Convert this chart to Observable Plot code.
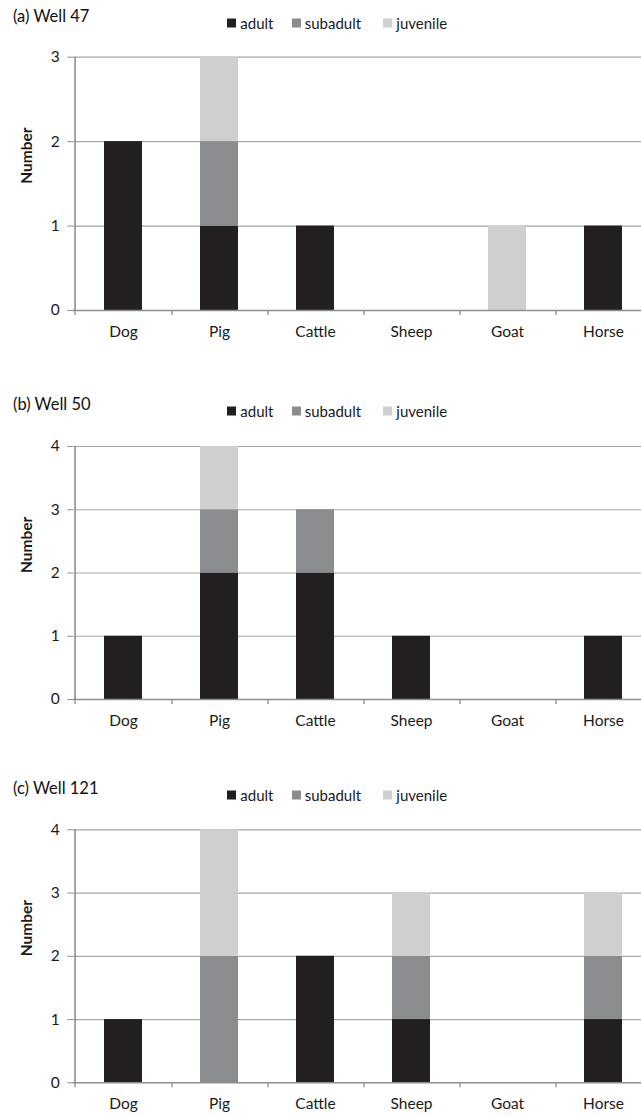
<!DOCTYPE html>
<html><head><meta charset="utf-8">
<script src="https://cdn.jsdelivr.net/npm/d3@7"></script>
<script src="https://cdn.jsdelivr.net/npm/@observablehq/plot@0.6"></script>
<style>
body{margin:0;background:#fff;font-family:Lato,sans-serif;}
#root{position:relative;width:641px;height:1116px;overflow:hidden;background:#fff;}
.panel{position:absolute;left:0;width:641px;}
.panel svg{display:block;}
.title{position:absolute;left:13px;font-size:16.5px;color:#111;line-height:1;transform:translateY(-50%);white-space:nowrap;}
.item{position:absolute;display:flex;align-items:center;font-size:15px;color:#1a1a1a;line-height:1;transform:translateY(-50%);white-space:nowrap;}
.sw{width:9px;height:9px;margin-right:4px;}
</style></head><body><div id="root"></div>
<script>
// ---- data ----
const categories = ["Dog", "Pig", "Cattle", "Sheep", "Goat", "Horse"];
const stages = ["adult", "subadult", "juvenile"];
const stageColors = ["#231f20", "#8a8d8f", "#cdcfd1"];
const panelTitles = ["(a) Well 47", "(b) Well 50", "(c) Well 121"];

const well47Adult    = [2, 1, 1, 0, 0, 1];
const well47Subadult = [0, 1, 0, 0, 0, 0];
const well47Juvenile = [0, 1, 0, 0, 1, 0];

const well50Adult    = [1, 2, 2, 1, 0, 1];
const well50Subadult = [0, 1, 1, 0, 0, 0];
const well50Juvenile = [0, 1, 0, 0, 0, 0];

const well121Adult    = [1, 0, 2, 1, 0, 1];
const well121Subadult = [0, 2, 0, 1, 0, 1];
const well121Juvenile = [0, 2, 0, 1, 0, 1];

const well47Ticks  = [0, 1, 2, 3];
const well50Ticks  = [0, 1, 2, 3, 4];
const well121Ticks = [0, 1, 2, 3, 4];
const yAxisLabel = "Number";

// ---- layout ----
const W = 641;
const xRange = [72.3, 653.7];
const step = (xRange[1] - xRange[0]) / categories.length;
const panels = [
  {title: panelTitles[0], series: [well47Adult, well47Subadult, well47Juvenile], ticks: well47Ticks,
   top: 0, height: 380, mt: 56.7, mb: 70, titleY: 16, legendY: 23.3},
  {title: panelTitles[1], series: [well50Adult, well50Subadult, well50Juvenile], ticks: well50Ticks,
   top: 380, height: 380, mt: 66, mb: 61, titleY: 24, legendY: 31},
  {title: panelTitles[2], series: [well121Adult, well121Subadult, well121Juvenile], ticks: well121Ticks,
   top: 760, height: 356, mt: 69.3, mb: 33.7, titleY: 27.5, legendY: 34.5}
];
const legendX = [227.3, 291.7, 383.3];
const axisColor = "#8e8e8e";
const gridColor = "#a6a6a6";

const root = document.getElementById("root");

for (const p of panels) {
  const data = [];
  categories.forEach((c, i) => {
    stages.forEach((s, k) => data.push({cat: c, stage: s, n: p.series[k][i]}));
  });
  const yMax = p.ticks[p.ticks.length - 1];

  const chart = Plot.plot({
    width: W,
    height: p.height,
    marginLeft: xRange[0],
    marginRight: 0,
    marginTop: p.mt,
    marginBottom: p.mb,
    style: {fontFamily: "Lato, sans-serif", fontSize: "15px", color: "#1a1a1a", background: "#fff", overflow: "visible"},
    x: {domain: categories, range: xRange, paddingInner: 0.6, paddingOuter: 0.3, axis: null},
    y: {domain: [0, yMax], axis: null},
    color: {domain: stages, range: stageColors},
    marks: [
      Plot.ruleY(p.ticks.filter(t => t > 0), {stroke: gridColor, strokeWidth: 1.2}),
      Plot.barY(data, {x: "cat", y: "n", fill: "stage"}),
      Plot.ruleY([0], {stroke: axisColor, strokeWidth: 1.6}),
      // vertical y axis line at the left edge
      Plot.ruleX([categories[0]], {y1: 0, y2: yMax, dx: -step / 2, stroke: axisColor, strokeWidth: 1.6}),
      // category boundary tick marks
      Plot.ruleX([categories[0]], {y1: 0, y2: 0, insetBottom: -5, dx: -step / 2, stroke: axisColor, strokeWidth: 1.3}),
      Plot.ruleX(categories, {y1: 0, y2: 0, insetBottom: -5, dx: step / 2, stroke: axisColor, strokeWidth: 1.3}),
      Plot.axisY({ticks: p.ticks, tickSize: 5, tickPadding: 8, stroke: axisColor, tickFormat: d => String(d), label: null, fontSize: 15.5}),
      Plot.axisX({tickSize: 0, tickPadding: 15, label: null, fontSize: 15.5}),
      Plot.text([yAxisLabel], {frameAnchor: "left", dx: -45.3, rotate: -90, fontWeight: "bold", fontSize: 15.5, fill: "#1a1a1a"})
    ]
  });

  const panel = document.createElement("div");
  panel.className = "panel";
  panel.style.top = p.top + "px";
  panel.style.height = p.height + "px";
  panel.appendChild(chart);

  const t = document.createElement("div");
  t.className = "title";
  t.style.top = p.titleY + "px";
  t.textContent = p.title;
  panel.appendChild(t);

  stages.forEach((s, k) => {
    const it = document.createElement("div");
    it.className = "item";
    it.style.left = legendX[k] + "px";
    it.style.top = p.legendY + "px";
    const sw = document.createElement("span");
    sw.className = "sw";
    sw.style.background = stageColors[k];
    const lab = document.createElement("span");
    lab.textContent = s;
    it.appendChild(sw);
    it.appendChild(lab);
    panel.appendChild(it);
  });

  root.appendChild(panel);
}
</script>
</body></html>
